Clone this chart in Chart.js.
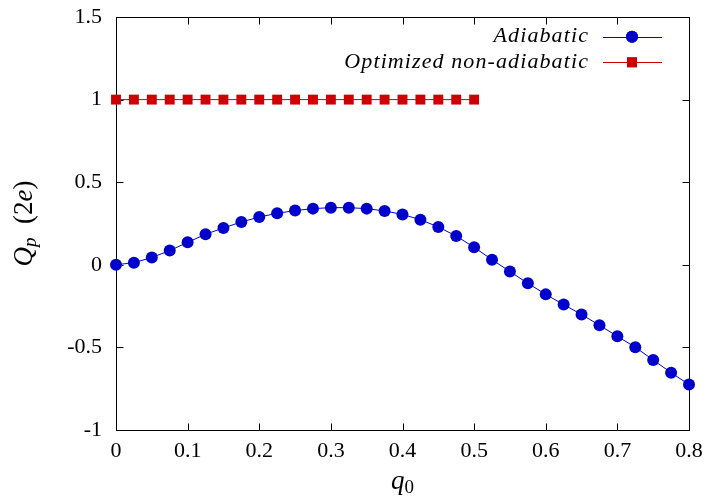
<!DOCTYPE html>
<html>
<head>
<meta charset="utf-8">
<script src="https://cdn.jsdelivr.net/npm/chart.js@4"></script>
<style>
  html, body { margin: 0; padding: 0; background: #fff; }
  canvas { display: block; }
</style>
</head>
<body>
<canvas id="chart" width="707" height="498"></canvas>
<script>
// Data
const qAdiabatic = [0, 0.025, 0.05, 0.075, 0.1, 0.125, 0.15, 0.175, 0.2, 0.225, 0.25, 0.275, 0.3, 0.325,
  0.35, 0.375, 0.4, 0.425, 0.45, 0.475, 0.5, 0.525, 0.55, 0.575, 0.6, 0.625, 0.65, 0.675, 0.7, 0.725,
  0.75, 0.775, 0.8];
const QpAdiabatic = [0, 0.013, 0.044, 0.086, 0.136, 0.185, 0.223, 0.259, 0.289, 0.312, 0.328, 0.340,
  0.346, 0.346, 0.340, 0.326, 0.305, 0.273, 0.229, 0.174, 0.106, 0.031, -0.041, -0.112, -0.179, -0.241,
  -0.301, -0.366, -0.433, -0.499, -0.576, -0.653, -0.725];
const qOptimized = [0, 0.025, 0.05, 0.075, 0.1, 0.125, 0.15, 0.175, 0.2, 0.225, 0.25, 0.275, 0.3, 0.325,
  0.35, 0.375, 0.4, 0.425, 0.45, 0.475, 0.5];
const QpOptimized = [1, 1, 1, 1, 1, 1, 1, 1, 1, 1, 1, 1, 1, 1, 1, 1, 1, 1, 1, 1, 1];
const xTicks = [0, 0.1, 0.2, 0.3, 0.4, 0.5, 0.6, 0.7, 0.8];
const yTicks = [-1, -0.5, 0, 0.5, 1, 1.5];

const SERIF = '"Liberation Serif", "DejaVu Serif", serif';
const BLUE = '#0000cc';
const RED = '#cc0000';

const toXY = (xs, ys) => xs.map((x, i) => ({ x: x, y: ys[i] }));
const fmt = v => String(Math.round(v * 10) / 10);

// box + inward ticks on all four sides (gnuplot style)
const framePlugin = {
  id: 'frame',
  beforeDatasetsDraw(chart) {
    const { ctx, chartArea: a, scales: { x, y } } = chart;
    const L = Math.round(a.left) + 0.5, R = Math.round(a.right) + 0.5;
    const T = Math.round(a.top) + 0.5, B = Math.round(a.bottom) + 0.5;
    const len = 7;
    ctx.save();
    ctx.strokeStyle = '#000';
    ctx.lineWidth = 1;
    ctx.beginPath();
    xTicks.forEach(v => {
      const px = Math.round(x.getPixelForValue(v)) + 0.5;
      ctx.moveTo(px, B); ctx.lineTo(px, B - len);
      ctx.moveTo(px, T); ctx.lineTo(px, T + len);
    });
    yTicks.forEach(v => {
      const py = Math.round(y.getPixelForValue(v)) + 0.5;
      ctx.moveTo(L, py); ctx.lineTo(L + len, py);
      ctx.moveTo(R, py); ctx.lineTo(R - len, py);
    });
    ctx.stroke();
    ctx.strokeRect(L, T, R - L, B - T);
    ctx.restore();
  }
};

// draws text made of runs (for subscripts / mixed italic)
function runsWidth(ctx, runs) {
  let w = 0;
  runs.forEach(r => { ctx.font = r.font; w += ctx.measureText(r.t).width; });
  return w;
}
function drawRuns(ctx, runs, x, y) {
  let cx = x;
  runs.forEach(r => {
    ctx.font = r.font;
    ctx.fillText(r.t, cx, y + (r.dy || 0));
    cx += ctx.measureText(r.t).width;
  });
}

const titlesPlugin = {
  id: 'titles',
  afterDraw(chart) {
    const { ctx, chartArea: a } = chart;
    ctx.save();
    ctx.fillStyle = '#000';
    ctx.textBaseline = 'alphabetic';
    ctx.textAlign = 'left';

    const xRuns = [
      { t: 'q', font: 'italic 27px ' + SERIF },
      { t: '0', font: '19px ' + SERIF, dy: 4 }
    ];
    const cx = (a.left + a.right) / 2;
    drawRuns(ctx, xRuns, cx - runsWidth(ctx, xRuns) / 2, 489);

    const yRuns = [
      { t: 'Q', font: 'italic 27px ' + SERIF },
      { t: 'p', font: 'italic 19px ' + SERIF, dy: 4 },
      { t: '\u2002(', font: '27px ' + SERIF },
      { t: '2', font: '27px ' + SERIF },
      { t: 'e', font: 'italic 27px ' + SERIF },
      { t: ')', font: '27px ' + SERIF }
    ];
    ctx.translate(32, (a.top + a.bottom) / 2);
    ctx.rotate(-Math.PI / 2);
    drawRuns(ctx, yRuns, -runsWidth(ctx, yRuns) / 2, 0);
    ctx.restore();
  }
};

// legend inside top-right: label right-aligned, sample line with marker after it
const keyPlugin = {
  id: 'key',
  afterDraw(chart) {
    const { ctx } = chart;
    ctx.save();
    chart.data.datasets.forEach((ds, i) => {
      const yMid = 36.7 + i * 25.6;
      ctx.font = 'italic 22px ' + SERIF;
      ctx.letterSpacing = '1.1px';
      ctx.fillStyle = '#000';
      ctx.textAlign = 'right';
      ctx.textBaseline = 'alphabetic';
      ctx.fillText(ds.label, 589, yMid + 5.5);
      ctx.letterSpacing = '0px';
      ctx.strokeStyle = ds.borderColor;
      ctx.lineWidth = 1;
      ctx.beginPath();
      ctx.moveTo(603, Math.round(yMid) + 0.5);
      ctx.lineTo(662, Math.round(yMid) + 0.5);
      ctx.stroke();
      ctx.fillStyle = ds.pointBackgroundColor;
      Chart.helpers.drawPoint(ctx, {
        pointStyle: ds.pointStyle, radius: ds.pointRadius, rotation: 0, borderWidth: 0
      }, 632, yMid);
      ctx.fill();
    });
    ctx.restore();
  }
};

new Chart(document.getElementById('chart'), {
  type: 'line',
  data: {
    datasets: [{
      label: 'Adiabatic',
      data: toXY(qAdiabatic, QpAdiabatic),
      borderColor: BLUE,
      borderWidth: 1,
      backgroundColor: BLUE,
      pointBackgroundColor: BLUE,
      pointBorderWidth: 0,
      pointStyle: 'circle',
      pointRadius: 6,
      tension: 0,
      clip: false
    }, {
      label: 'Optimized non-adiabatic',
      data: toXY(qOptimized, QpOptimized),
      borderColor: RED,
      borderWidth: 1,
      backgroundColor: RED,
      pointBackgroundColor: RED,
      pointBorderWidth: 0,
      pointStyle: 'rect',
      pointRadius: 7,
      tension: 0,
      clip: false
    }]
  },
  options: {
    responsive: false,
    animation: false,
    layout: { padding: { top: 17, right: 18, left: 0, bottom: 0 } },
    plugins: {
      legend: { display: false },
      tooltip: { enabled: false }
    },
    scales: {
      x: {
        type: 'linear',
        min: 0,
        max: 0.8,
        afterFit: s => { s.height = 68; s.paddingLeft = 0; s.paddingRight = 0; },
        afterBuildTicks: s => { s.ticks = xTicks.map(v => ({ value: v })); },
        grid: { display: false, drawTicks: false },
        border: { display: false },
        ticks: {
          padding: 8,
          color: '#000',
          font: { family: SERIF, size: 22 },
          callback: fmt
        }
      },
      y: {
        type: 'linear',
        min: -1,
        max: 1.5,
        afterFit: s => { s.width = 116; s.paddingTop = 0; s.paddingBottom = 0; },
        afterBuildTicks: s => { s.ticks = yTicks.map(v => ({ value: v })); },
        grid: { display: false, drawTicks: false },
        border: { display: false },
        ticks: {
          padding: 14,
          color: '#000',
          font: { family: SERIF, size: 22 },
          callback: fmt
        }
      }
    }
  },
  plugins: [framePlugin, titlesPlugin, keyPlugin]
});
</script>
</body>
</html>
